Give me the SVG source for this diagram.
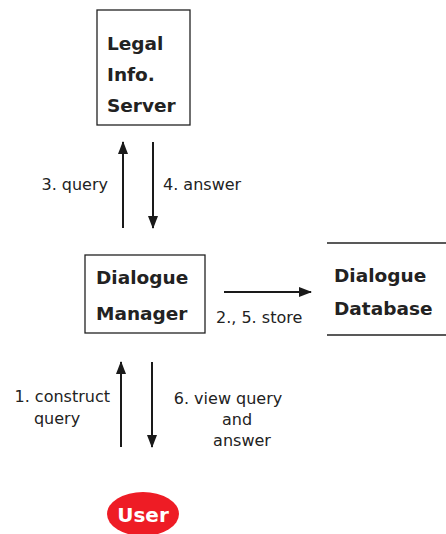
<svg xmlns="http://www.w3.org/2000/svg" width="446" height="534" viewBox="0 0 446 534">
<style>
.box{fill:#fff;stroke:#222;stroke-width:1.3}
.nt{font-family:"DejaVu Sans",sans-serif;font-weight:bold;font-size:18.5px;fill:#222}
.lb{font-family:"DejaVu Sans",sans-serif;font-size:16px;fill:#222}
.ar{stroke:#1a1a1a;stroke-width:2;fill:none;marker-end:url(#ah)}
</style>
<defs>
<marker id="ah" markerWidth="13" markerHeight="10" refX="12" refY="5" orient="auto" markerUnits="userSpaceOnUse">
<path d="M0,0 L13,5 L0,10 Z" fill="#1a1a1a"/>
</marker>
</defs>
<rect width="446" height="534" fill="#fff"/>
<g id="legal-info-server">
<rect class="box" x="97" y="10" width="93" height="115"/>
<text class="nt" x="107" y="50">Legal</text>
<text class="nt" x="107" y="81">Info.</text>
<text class="nt" x="107" y="112">Server</text>
</g>
<g id="dialogue-manager">
<rect class="box" x="85" y="255" width="120" height="78"/>
<text class="nt" x="96" y="284">Dialogue</text>
<text class="nt" x="96" y="320">Manager</text>
</g>
<g id="dialogue-database">
<line x1="327" y1="243" x2="446" y2="243" stroke="#222" stroke-width="1.3"/>
<line x1="327" y1="335" x2="446" y2="335" stroke="#222" stroke-width="1.3"/>
<text class="nt" x="334" y="282">Dialogue</text>
<text class="nt" x="334" y="315">Database</text>
</g>
<g id="user">
<ellipse cx="143" cy="514" rx="36" ry="22" fill="#ee1c25"/>
<text class="nt" x="143" y="522" text-anchor="middle" style="fill:#fff;font-size:20px">User</text>
</g>
<g id="connectors">
<line class="ar" x1="123" y1="228" x2="123" y2="142"/>
<line class="ar" x1="153" y1="142" x2="153" y2="228"/>
<line class="ar" x1="224" y1="292" x2="311" y2="292"/>
<line class="ar" x1="121" y1="447" x2="121" y2="362"/>
<line class="ar" x1="152" y1="362" x2="152" y2="447"/>
<text class="lb" x="108" y="190" text-anchor="end">3. query</text>
<text class="lb" x="163" y="190">4. answer</text>
<text class="lb" x="216" y="323">2., 5. store</text>
<text class="lb" x="110" y="402" text-anchor="end">1. construct</text>
<text class="lb" x="57" y="424" text-anchor="middle">query</text>
<text class="lb" x="228" y="404" text-anchor="middle">6. view query</text>
<text class="lb" x="237" y="425" text-anchor="middle">and</text>
<text class="lb" x="242" y="446" text-anchor="middle">answer</text>
</g>
</svg>
